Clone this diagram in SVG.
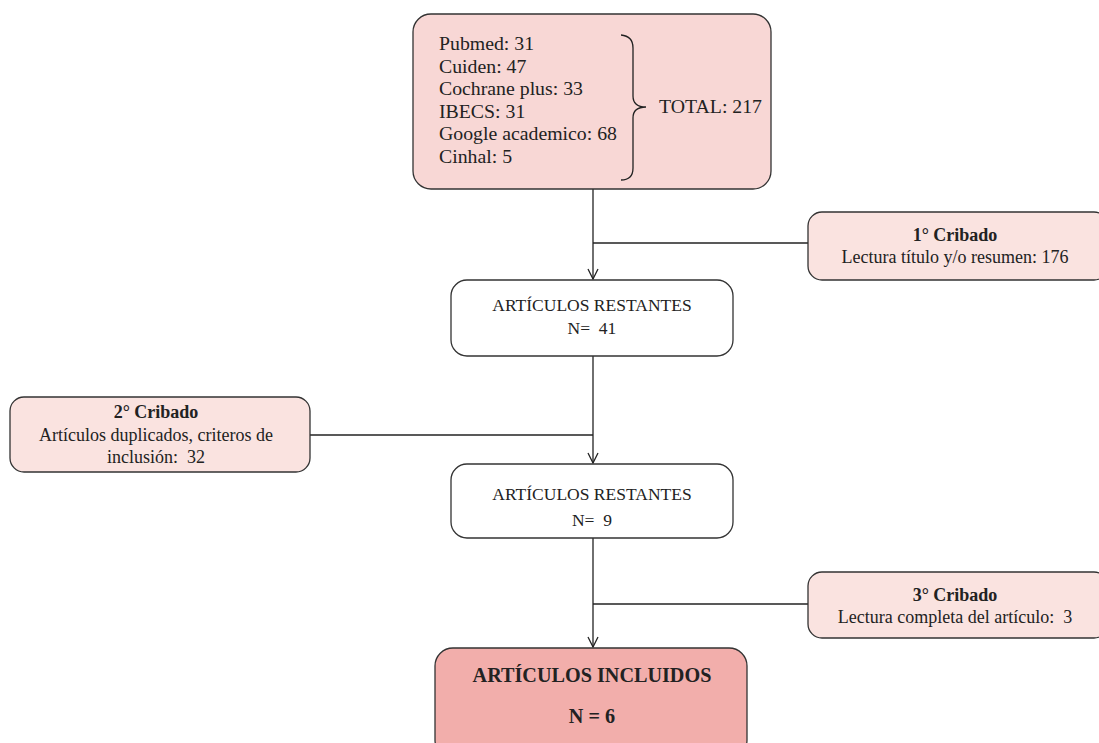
<svg xmlns="http://www.w3.org/2000/svg" width="1099" height="743" viewBox="0 0 1099 743">
<defs>
<style>
.box{stroke:#333;stroke-width:1.3}
.src{fill:#f8d7d5}
.scr{fill:#fae3e0}
.rest{fill:#ffffff}
.inc{fill:#f2aeab}
text{font-family:"Liberation Serif","Times New Roman",serif;fill:#222;white-space:pre}
.c{text-anchor:middle}
.b{font-weight:bold}
.conn{stroke:#222;stroke-width:1.3;fill:none}
</style>
<marker id="arr" viewBox="0 0 12 12" refX="11" refY="6" markerWidth="12" markerHeight="12" markerUnits="userSpaceOnUse" orient="auto">
<path d="M1 1 L11 6 L1 11" fill="none" stroke="#222" stroke-width="1.3"/>
</marker>
</defs>
<rect width="1099" height="743" fill="#ffffff"/>
<g id="connectors">
<path class="conn" d="M593 189 L593 279" marker-end="url(#arr)"/>
<path class="conn" d="M593 243 L808 243"/>
<path class="conn" d="M593 356 L593 463" marker-end="url(#arr)"/>
<path class="conn" d="M310 435 L593 435"/>
<path class="conn" d="M593 538 L593 647" marker-end="url(#arr)"/>
<path class="conn" d="M593 604 L808 604"/>
</g>
<g id="sources">
<rect class="box src" x="413" y="14" width="358" height="175" rx="18"/>
<g font-size="19.8">
<text x="439" y="50">Pubmed: 31</text>
<text x="439" y="73">Cuiden: 47</text>
<text x="439" y="95">Cochrane plus: 33</text>
<text x="439" y="118">IBECS: 31</text>
<text x="439" y="140">Google academico: 68</text>
<text x="439" y="163">Cinhal: 5</text>
<text x="659" y="113">TOTAL: 217</text>
</g>
<path class="conn" d="M621 35 Q633 36 633 48 L633 96 Q633 107 646 107 Q633 107 633 118 L633 168 Q633 180 621 180"/>
</g>
<g id="cribado1">
<rect class="box scr" x="808" y="212" width="300" height="68" rx="14"/>
<text class="c b" x="955" y="241" font-size="18">1° Cribado</text>
<text class="c" x="955" y="263" font-size="18">Lectura título y/o resumen: 176</text>
</g>
<g id="restantes1">
<rect class="box rest" x="451" y="280" width="282" height="76" rx="16"/>
<text class="c" x="592" y="311" font-size="17.5">ARTÍCULOS RESTANTES</text>
<text class="c" x="592" y="334" font-size="17.5">N=  41</text>
</g>
<g id="cribado2">
<rect class="box scr" x="10" y="397" width="300" height="75" rx="14"/>
<text class="c b" x="156" y="418" font-size="18">2° Cribado</text>
<text class="c" x="156" y="441" font-size="18">Artículos duplicados, criteros de</text>
<text class="c" x="156" y="463" font-size="18">inclusión:  32</text>
</g>
<g id="restantes2">
<rect class="box rest" x="451" y="464" width="282" height="74" rx="16"/>
<text class="c" x="592" y="500" font-size="17.5">ARTÍCULOS RESTANTES</text>
<text class="c" x="592" y="526" font-size="17.5">N=  9</text>
</g>
<g id="cribado3">
<rect class="box scr" x="808" y="572" width="300" height="66" rx="14"/>
<text class="c b" x="955" y="601" font-size="18">3° Cribado</text>
<text class="c" x="955" y="623" font-size="18">Lectura completa del artículo:  3</text>
</g>
<g id="incluidos">
<rect class="box inc" x="435" y="648" width="312" height="110" rx="18"/>
<text class="c b" x="592" y="682" font-size="20.2">ARTÍCULOS INCLUIDOS</text>
<text class="c b" x="592" y="723" font-size="20.2">N = 6</text>
</g>
</svg>
